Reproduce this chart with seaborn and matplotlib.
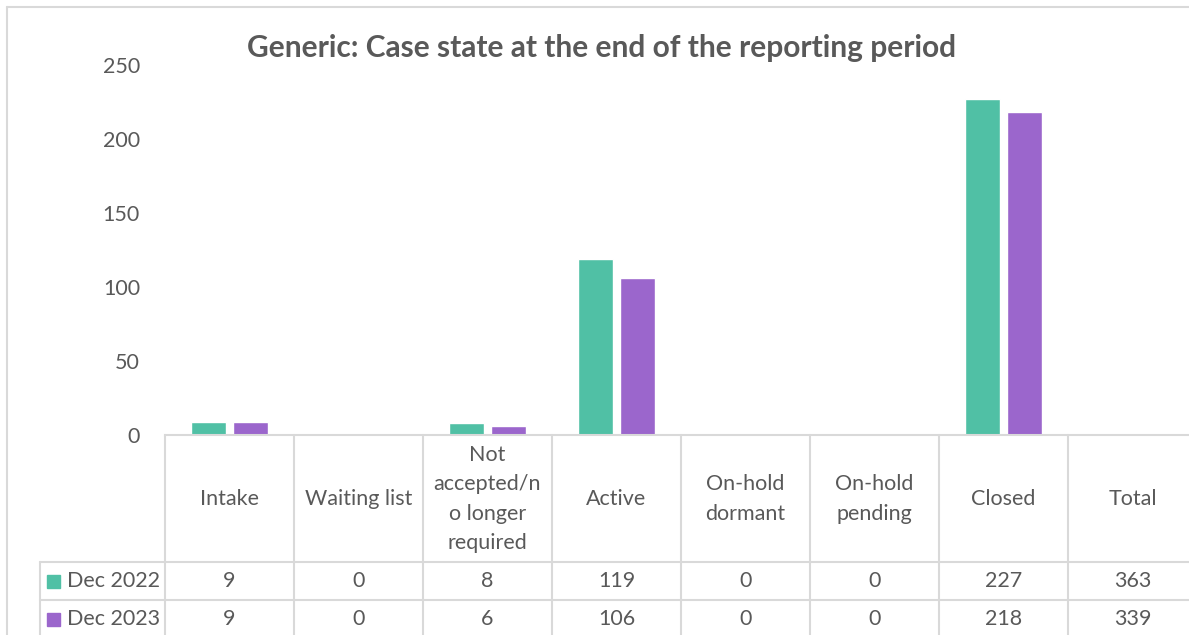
import pandas as pd
import seaborn as sns
import matplotlib.pyplot as plt
from matplotlib.lines import Line2D
from matplotlib.patches import Rectangle
from matplotlib.transforms import blended_transform_factory

categories = ["Intake", "Waiting list", "Not accepted/no longer required", "Active",
              "On-hold dormant", "On-hold pending", "Closed", "Total"]
header_labels = ["Intake", "Waiting list", "Not\naccepted/n\no longer\nrequired", "Active",
                 "On-hold\ndormant", "On-hold\npending", "Closed", "Total"]
series = ["Dec 2022", "Dec 2023"]
dec_2022 = [9, 0, 8, 119, 0, 0, 227, 363]
dec_2023 = [9, 0, 6, 106, 0, 0, 218, 339]
colors = ["#50C0A5", "#9B66CC"]
y_ticks = [0, 50, 100, 150, 200, 250]

TXT = "#595959"
GRID = "#D9D9D9"
W, H = 1189, 635

sns.set_theme(style="white")
plt.rcParams["font.family"] = ["Lato", "DejaVu Sans"]

# bars only for the real categories (no bar for Total)
rows = []
for s, vals in zip(series, [dec_2022, dec_2023]):
    for c, v in zip(categories[:-1], vals[:-1]):
        if v > 0:
            rows.append({"category": c, "series": s, "value": v})
df = pd.DataFrame(rows)

fig = plt.figure(figsize=(W / 100, H / 100), dpi=100)
ax = fig.add_axes([165 / W, 1 - 435 / H, (1197 - 165) / W, (435 - 65) / H])

sns.barplot(data=df, x="category", y="value", hue="series", order=categories,
            hue_order=series, palette=colors, saturation=1, width=0.65, gap=0.17,
            legend=False, ax=ax)

ax.set_xlim(-0.5, len(categories) - 0.5)
ax.set_ylim(0, 250)
ax.set_yticks(y_ticks)
ax.set_xticks([])
ax.set_xlabel("")
ax.set_ylabel("")
ax.tick_params(axis="y", length=0, pad=18, labelsize=15.5, labelcolor=TXT)
for sp in ["top", "right", "left"]:
    ax.spines[sp].set_visible(False)
ax.spines["bottom"].set_color(GRID)
ax.spines["bottom"].set_linewidth(1.5)

fig.text(602 / W, 1 - 48 / H, "Generic: Case state at the end of the reporting period",
         ha="center", va="center", fontsize=21.5, fontweight="bold", color=TXT)

# data table under the axis
def fy(px):
    return 1 - px / H

tr = blended_transform_factory(ax.transData, fig.transFigure)
lw = 1.5
for i in range(len(categories) + 1):
    fig.add_artist(Line2D([i - 0.5, i - 0.5], [fy(435), fy(640)], transform=tr,
                          color=GRID, lw=lw))
for ypx in [562, 600]:
    fig.add_artist(Line2D([40 / W, 1], [fy(ypx), fy(ypx)], transform=fig.transFigure,
                          color=GRID, lw=lw))
fig.add_artist(Line2D([40 / W, 40 / W], [fy(562), fy(640)], transform=fig.transFigure,
                      color=GRID, lw=lw))

for i, lab in enumerate(header_labels):
    fig.text(i, fy(499), lab, transform=tr, ha="center", va="center",
             fontsize=15.5, color=TXT, linespacing=1.6)

for r, (s, vals, col) in enumerate(zip(series, [dec_2022, dec_2023], colors)):
    ypx = 581 + r * 38
    fig.add_artist(Rectangle((47 / W, fy(ypx + 7)), 13 / W, 13 / H,
                             transform=fig.transFigure, color=col))
    fig.text(67 / W, fy(ypx), s, ha="left", va="center", fontsize=15.5, color=TXT)
    for i, v in enumerate(vals):
        fig.text(i, fy(ypx), str(v), transform=tr, ha="center", va="center",
                 fontsize=15.5, color=TXT)

# chart frame
fig.add_artist(Line2D([7 / W, 1], [fy(7), fy(7)], transform=fig.transFigure, color=GRID, lw=lw))
fig.add_artist(Line2D([7 / W, 7 / W], [fy(7), 0], transform=fig.transFigure, color=GRID, lw=lw))

fig.savefig("out.png", dpi=100)
